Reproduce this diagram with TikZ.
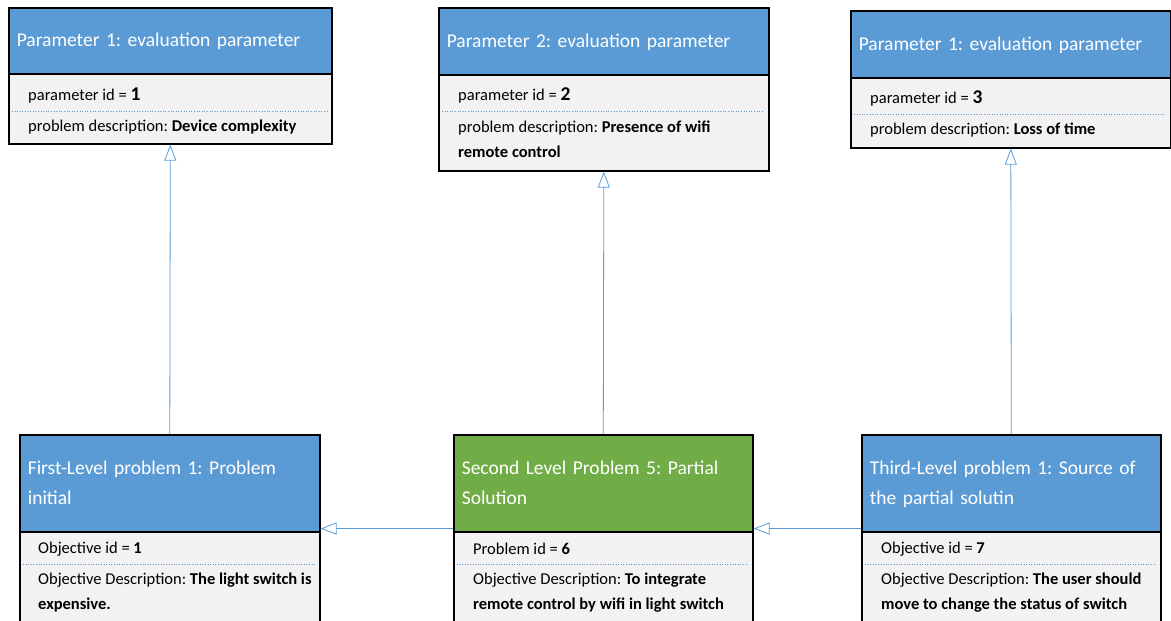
\documentclass[tikz,border=0pt]{standalone}
\usepackage{fontspec}
\setmainfont{Carlito}
\usetikzlibrary{arrows.meta}
\definecolor{hdrblue}{HTML}{5B9BD5}
\definecolor{hdrgreen}{HTML}{70AD47}
\definecolor{bodygray}{HTML}{F2F2F2}
\definecolor{linkblue}{HTML}{5B9BD5}
\newcommand{\bignum}[1]{\textbf{\fontsize{19.5}{25}\selectfont #1}}
\frenchspacing

\begin{document}
\begin{tikzpicture}[
    x=1pt, y=-1pt,
    classhead/.style={draw=black, line width=1.6pt, fill=hdrblue, text=white, anchor=north west,
        align=left, inner xsep=8pt, inner ysep=0pt, font=\fontsize{19.5}{30}\selectfont,
        execute at begin node=\strut, execute at end node=\strut},
    classbody/.style={draw=black, line width=1.6pt, fill=bodygray, anchor=north west, inner sep=0pt},
    field/.style={anchor=west, align=left, inner sep=0pt, font=\fontsize{16.5}{25}\selectfont},
    sepline/.style={draw=linkblue, line width=0.6pt, dotted},
    inherit/.style={draw=linkblue, line width=0.8pt, -{Triangle[open, length=16pt, width=12pt]}}
]
\useasboundingbox (0,0) rectangle (1171,621);
\clip (0,0) rectangle (1171,621);

% parameter classes (top row)
\node[classbody, minimum width=323, minimum height=70] (par1body) at (8,73) {};
\node[classhead, text width=307, minimum height=66] (par1) at (8,7) {Parameter 1: evaluation parameter};
\draw[sepline] (12,111) -- (327,111);
\node[field] (par1id) at (28,95) {parameter id = \bignum{1}};
\node[field] (par1desc) at (28,127) {problem description: \textbf{Device complexity}};

\node[classbody, minimum width=330, minimum height=96] (par2body) at (438,74) {};
\node[classhead, text width=314, minimum height=67] (par2) at (438,7) {Parameter 2: evaluation parameter};
\draw[sepline] (442,111) -- (764,111);
\node[field] (par2id) at (458,95) {parameter id = \bignum{2}};
\node[field] (par2desc) at (458,139.5) {problem description: \textbf{Presence of wifi}\\\textbf{remote control}};

\node[classbody, minimum width=320, minimum height=70] (par3body) at (850,77) {};
\node[classhead, text width=304, minimum height=67] (par3) at (850,10) {Parameter 1: evaluation parameter};
\draw[sepline] (854,114) -- (1166,114);
\node[field] (par3id) at (870,98) {parameter id = \bignum{3}};
\node[field] (par3desc) at (870,130) {problem description: \textbf{Loss of time}};

% problem classes (bottom row)
\node[classbody, minimum width=300, minimum height=100] (lvl1body) at (19,531) {};
\node[classhead, text width=284, minimum height=97] (lvl1) at (19,434) {First-Level problem 1: Problem\\initial};
\draw[sepline] (23,564) -- (315,564);
\node[field] (lvl1id) at (38,549) {Objective id = \textbf{1}};
\node[field] (lvl1desc) at (38,592.5) {Objective Description: \textbf{The light switch is}\\\textbf{expensive.}};

\node[classbody, minimum width=299, minimum height=100] (lvl2body) at (453,531) {};
\node[classhead, fill=hdrgreen, text width=283, minimum height=97] (lvl2) at (453,434) {Second Level Problem 5: Partial\\Solution};
\draw[sepline] (457,564) -- (748,564);
\node[field] (lvl2id) at (473,549) {Problem id = \textbf{6}};
\node[field] (lvl2desc) at (473,592.5) {Objective Description: \textbf{To integrate}\\\textbf{remote control by wifi in light switch}};

\node[classbody, minimum width=299, minimum height=100] (lvl3body) at (861,531) {};
\node[classhead, text width=283, minimum height=97] (lvl3) at (861,434) {Third-Level problem 1: Source of\\the partial solutin};
\draw[sepline] (865,564) -- (1156,564);
\node[field] (lvl3id) at (881,549) {Objective id = \textbf{7}};
\node[field] (lvl3desc) at (881,592.5) {Objective Description: \textbf{The user should}\\\textbf{move to change the status of switch}};

% links
\draw[inherit] (lvl1.north) -- (par1body.south);
\draw[inherit] (lvl2.north) -- (par2body.south);
\draw[inherit] (lvl3.north) -- (par3body.south);
\draw[inherit] ([yshift=4pt]lvl2.south west) -- ([yshift=4pt]lvl1.south east);
\draw[inherit] ([yshift=4pt]lvl3.south west) -- ([yshift=4pt]lvl2.south east);
\end{tikzpicture}
\end{document}
